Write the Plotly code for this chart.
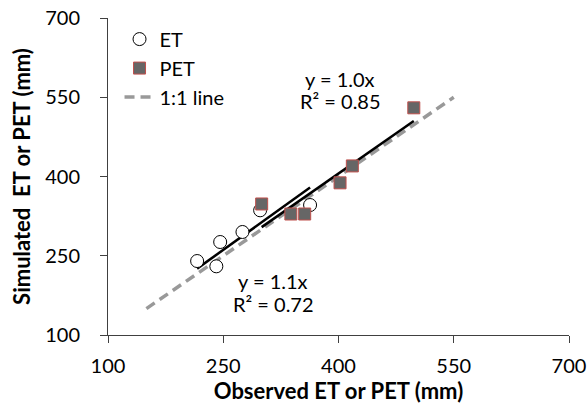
import plotly.graph_objects as go

et_obs = [216, 241, 246, 275, 298, 363]
et_sim = [240, 230, 276, 295, 336, 346]
pet_obs = [300, 338, 356, 402, 418, 498]
pet_sim = [348, 329, 329, 388, 420, 530]
one_to_one = [150, 550]
ticks = [100, 250, 400, 550, 700]

def slope0(x, y):
    return sum(a * b for a, b in zip(x, y)) / sum(a * a for a in x)

k_et = slope0(et_obs, et_sim)
k_pet = slope0(pet_obs, pet_sim)

FONT = "Lato, Carlito, Calibri, sans-serif"
L, R, T, B = 108, 19, 18, 77
PW, PH = 588 - L - R, 412 - T - B

fig = go.Figure()
fig.add_trace(go.Scatter(x=one_to_one, y=one_to_one, mode="lines", name="1:1 line",
                         line=dict(color="#999999", width=3.5, dash="10px,6px"),
                         legendrank=3, legendgroup="c"))
fig.add_trace(go.Scatter(x=[min(et_obs), max(et_obs)],
                         y=[k_et * min(et_obs), k_et * max(et_obs)],
                         mode="lines", line=dict(color="black", width=2.5), showlegend=False))
fig.add_trace(go.Scatter(x=[min(pet_obs), max(pet_obs)],
                         y=[k_pet * min(pet_obs), k_pet * max(pet_obs)],
                         mode="lines", line=dict(color="black", width=2.5), showlegend=False))
fig.add_trace(go.Scatter(x=et_obs, y=et_sim, mode="markers", name="ET",
                         marker=dict(symbol="circle", size=13, color="white",
                                     line=dict(color="black", width=1)),
                         legendrank=1, legendgroup="a"))
fig.add_trace(go.Scatter(x=pet_obs, y=pet_sim, mode="markers", name="PET",
                         marker=dict(symbol="square", size=12, color="#666666",
                                     line=dict(color="#c0504d", width=1)),
                         legendrank=2, legendgroup="b"))

fig.update_layout(
    width=588, height=412,
    margin=dict(l=L, r=R, t=T, b=B),
    paper_bgcolor="white", plot_bgcolor="white",
    font=dict(family=FONT, size=20, color="black"),
    showlegend=True,
    legend=dict(x=0.025, y=0.995, xanchor="left", yanchor="top", bgcolor="rgba(0,0,0,0)",
                font=dict(size=20), traceorder="grouped", tracegroupgap=0,
                itemwidth=30),
    xaxis=dict(range=[100, 700], tickvals=ticks, showgrid=False, zeroline=False,
               showline=True, linecolor="#404040", linewidth=1, ticks="outside",
               ticklen=7, tickcolor="#404040", automargin=False, ticklabelstandoff=6,
               title=dict(text="<b>Observed ET or PET (mm)</b>", font=dict(size=22), standoff=7),
               tickfont=dict(size=20)),
    yaxis=dict(range=[100, 700], tickvals=ticks, showgrid=False, zeroline=False,
               showline=True, linecolor="#404040", linewidth=1, ticks="outside",
               ticklen=7, tickcolor="#404040", automargin=False, ticklabelstandoff=16,
               title=dict(text="<b>Simulated  ET or PET (mm)</b>", font=dict(size=22), standoff=8),
               tickfont=dict(size=20)),
)
ann = [("y = 1.0x", 340, 79), ("R² = 0.85", 340, 101), ("y = 1.1x", 273, 281), ("R² = 0.72", 273, 304)]
for t, px, py in ann:
    fig.add_annotation(x=(px - L) / PW, y=1 - (py - T) / PH, xref="paper", yref="paper",
                       text=t, showarrow=False, font=dict(size=20, color="black", family=FONT),
                       xanchor="center", yanchor="middle")
fig.write_html("out.html", config={"displayModeBar": False},
               post_script="document.body.style.margin='0';")
